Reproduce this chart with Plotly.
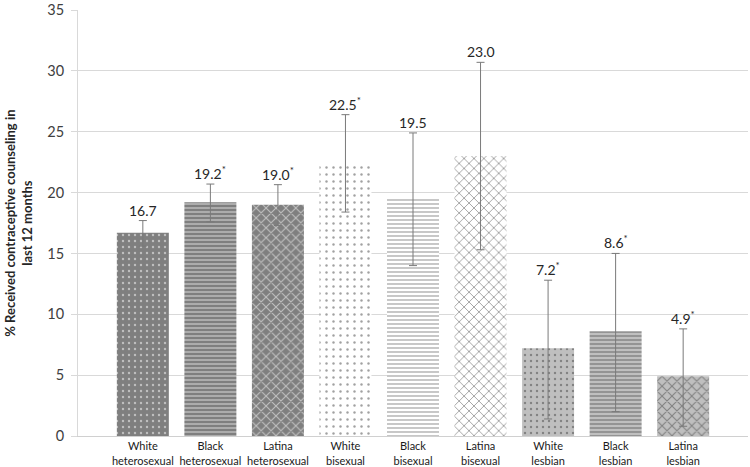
import plotly.graph_objects as go

# ---- data ----
groups = ["White heterosexual", "Black heterosexual", "Latina heterosexual",
          "White bisexual", "Black bisexual", "Latina bisexual",
          "White lesbian", "Black lesbian", "Latina lesbian"]
tick_labels = ["White<br>heterosexual", "Black<br>heterosexual", "Latina<br>heterosexual",
               "White<br>bisexual", "Black<br>bisexual", "Latina<br>bisexual",
               "White<br>lesbian", "Black<br>lesbian", "Latina<br>lesbian"]
values = [16.7, 19.2, 19.0, 22.5, 19.5, 23.0, 7.2, 8.6, 4.9]
upper = [17.7, 20.7, 20.65, 26.4, 24.9, 30.7, 12.8, 15.0, 8.8]
lower = [15.6, 17.6, 17.3, 18.4, 14.0, 15.3, 1.4, 2.0, 0.8]
significant = [False, True, True, True, False, False, True, True, True]
y_ticks = [0, 5, 10, 15, 20, 25, 30, 35]

# ---- styles ----
shapes = [".", "-", "x", ".", "-", "x", ".", "-", "x"]
bgcols = ["#7f7f7f"] * 3 + ["#ffffff"] * 3 + ["#bfbfbf"] * 3
fgcols = ["#d8d8d8", "#b0b0b0", "#b8b8b8",
          "#a8a8a8", "#bdbdbd", "#b5b5b5",
          "#e2e2e2", "#dcdcdc", "#dedede"]
sizes = [6, 4, 7, 7, 4, 7, 6, 4, 7]
solid = [0.12, 0.35, 0.3, 0.1, 0.3, 0.25, 0.12, 0.35, 0.3]

x = list(range(len(groups)))
err_plus = [u - v for u, v in zip(upper, values)]
err_minus = [v - l for v, l in zip(values, lower)]

fig = go.Figure()
fig.add_trace(go.Bar(
    x=x, y=values,
    marker=dict(color=bgcols, line=dict(width=0),
                pattern=dict(shape=shapes, fgcolor=fgcols, bgcolor=bgcols,
                             size=sizes, solidity=solid, fillmode="overlay")),
    error_y=dict(type="data", array=err_plus, arrayminus=err_minus,
                 color="#7a7a7a", thickness=1, width=4),
    hoverinfo="skip", showlegend=False,
))

for i, (v, u, s) in enumerate(zip(values, upper, significant)):
    txt = f"{v:.1f}" + ("<sup>*</sup>" if s else "")
    fig.add_annotation(x=i, y=u, text=txt, showarrow=False, yanchor="bottom",
                       xanchor="center", yshift=0,
                       font=dict(size=14, color="#262626", family="Lato"))

fig.add_annotation(xref="paper", yref="paper", x=-0.09, y=0.5,
                   xanchor="center", yanchor="middle",
                   text="<b>% Received contraceptive counseling in<br>last 12 months</b>",
                   textangle=-90, showarrow=False,
                   font=dict(size=13, color="#262626", family="Lato"))

fig.update_layout(
    width=750, height=467,
    margin=dict(l=78, r=2, t=10, b=31),
    plot_bgcolor="white", paper_bgcolor="white",
    bargap=0.23,
    font=dict(family="Lato"),
    xaxis=dict(tickmode="array", tickvals=x, ticktext=tick_labels,
               range=[-0.96, 8.96], showgrid=False, showline=True,
               linecolor="#d0d0d0", linewidth=1, ticks="", automargin=False,
               tickfont=dict(size=11, color="#1a1a1a", family="Lato")),
    yaxis=dict(range=[0, 35], tickmode="array", tickvals=y_ticks,
               showgrid=True, gridcolor="#d9d9d9",
               showline=True, linecolor="#d9d9d9", ticks="outside", ticklen=6,
               tickcolor="#d9d9d9", zeroline=False, automargin=False,
               ticklabelstandoff=4, ticklabeloverflow="allow",
               tickfont=dict(size=14.5, color="#404040", family="Lato")),
)

fig.write_html("out.html", config={"displayModeBar": False},
               post_script="document.body.style.margin='0';document.body.style.overflow='hidden';")
